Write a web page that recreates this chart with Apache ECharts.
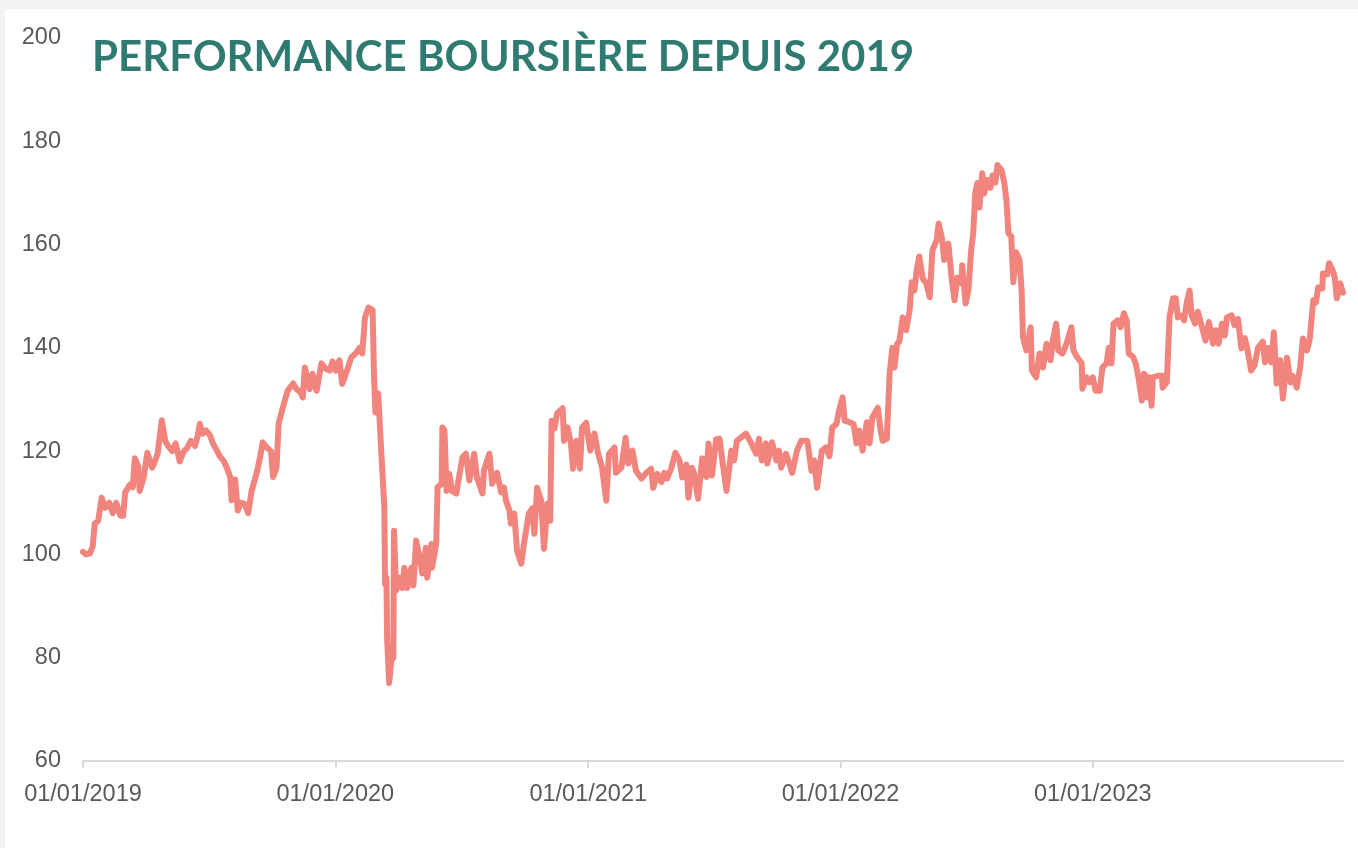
<!DOCTYPE html>
<html>
<head>
<meta charset="utf-8">
<script src="https://cdn.jsdelivr.net/npm/echarts@6/dist/echarts.min.js"></script>
<style>
  html, body { margin: 0; padding: 0; background: #f2f2f2; }
  #chart { position: absolute; left: 5px; top: 9px; width: 1353px; height: 839px; background: #fff; }
</style>
</head>
<body>
<div id="chart"></div>
<script>
// performance boursière, base 100 au 01/01/2019
var days2019 = ['01-01','01-05','01-11','01-15','01-18','01-23','01-28','02-02','02-08','02-13','02-18','02-24','02-28','03-03','03-10','03-14','03-17','03-22','03-24','03-30','04-04','04-11','04-15','04-19','04-25','04-30','05-04','05-10','05-15','05-21','05-27','05-31','06-06','06-12','06-16','06-19','06-23','06-28','07-04','07-08','07-14','07-18','07-24','07-28','08-02','08-04','08-09','08-13','08-17','08-23','08-28','09-02','09-10','09-14','09-18','09-24','09-30','10-03','10-08','10-11','10-17','10-24','11-01','11-06','11-11','11-15','11-18','11-22','11-25','11-29','12-05','12-12','12-18','12-24','12-28']
var vals2019 = [100.5,100,100.2,101.5,106,106.5,111,109,110,108,110,107.5,107.5,112,113.5,113,118.6,117,112.3,115,119.7,116.8,118,119.5,126,122,121,120,121.5,118,120,120.5,122,121,123,125.3,123.4,124,123,121.5,120,119,118,116.8,115,110.5,114.5,108.5,110,109.8,108,112.3,116.2,118.7,121.7,120.7,120,115,116.8,125.3,128.4,131.7,133.1,132,131.5,130.4,136.2,134,132,135,131.7,137,136,135.6,137.4]

var days2020 = ['01-02','01-07','01-11','01-18','01-24','01-31','02-05','02-09','02-13','02-18','02-24','02-26','02-28','03-03','03-08','03-12','03-13','03-15','03-16','03-19','03-22','03-25','03-26','03-29','04-03','04-07','04-10','04-14','04-20','04-23','04-27','05-01','05-06','05-11','05-13','05-19','05-20','05-26','05-28','06-03','06-04','06-07','06-10','06-14','06-18','06-24','06-28','07-03','07-08','07-13','07-20','07-24','08-01','08-03','08-11','08-15','08-22','08-28','09-01','09-04','09-09','09-11','09-16','09-20','09-26','09-30','10-07','10-12','10-15','10-19','10-25','10-29','11-03','11-07','11-09','11-13','11-17','11-25','11-27','12-02','12-07','12-10','12-15','12-20','12-23','12-29']
var vals2020 = [135.6,137.6,133,135.6,138.1,139,140,138.9,145.9,147.8,147.3,135,127.5,131.2,118.8,109,94.3,95.5,83.8,75.1,79.4,80,104.6,93,95.5,93.5,97.4,93.5,97.4,94,102.7,100.1,96.3,101.3,95.5,102,97.4,102,113,113.7,124.6,124,112.3,115.6,112.3,111.8,114.9,118.8,119.5,114.3,119.5,114.9,111.8,116.2,119.5,113.7,115.8,112,113,110.4,108.5,106,107.9,100.7,98.2,102.1,107.9,108.9,104,112.9,110.4,101.1,109.8,106.5,125.9,124.4,127.3,128.3,122,124.6,121.5,116.6,122,116.6,124.6,125.5]

var days2021 = ['01-04','01-10','01-15','01-21','01-27','01-31','02-08','02-10','02-18','02-24','02-28','03-06','03-11','03-19','03-26','04-02','04-05','04-11','04-17','04-21','04-25','05-01','05-07','05-13','05-17','05-23','05-26','05-31','06-03','06-09','06-15','06-21','06-24','06-29','07-05','07-10','07-14','07-20','07-27','07-31','08-04','08-17','08-25','09-01','09-05','09-09','09-15','09-17','09-24','09-30','10-04','10-07','10-14','10-19','10-23','10-30','11-05','11-14','11-20','11-24','11-28','12-05','12-11','12-16','12-20','12-26','12-30']
var vals2021 = [120.1,123.4,119.7,116.8,110.4,119.5,120.7,115.8,116.8,122.6,117.6,120.1,116.2,114.7,115.8,116.6,112.9,115.6,114,115.8,114.7,116.6,119.7,118.2,114.9,117.4,111,116.8,115.8,110.8,118.6,115,121.5,115.3,122.3,122.4,118.2,112.3,120.1,118.2,122,123.4,121.5,119.5,122.4,118.2,121.5,117.6,121.7,118.2,120.1,116.8,119.5,117.6,115.8,120.1,122,122,116.2,118.2,112.9,120.1,120.7,119,124.6,125.2,127.9]

var days2022 = ['01-04','01-07','01-14','01-20','01-24','01-28','02-02','02-08','02-12','02-16','02-24','02-28','03-03','03-09','03-13','03-17','03-20','03-24','03-27','04-01','04-06','04-11','04-14','04-18','04-21','04-25','04-30','05-05','05-10','05-14','05-20','05-23','05-28','05-31','06-06','06-11','06-15','06-19','06-25','06-26','07-01','07-05','07-09','07-12','07-15','07-18','07-21','07-25','07-28','08-01','08-06','08-09','08-13','08-16','08-22','08-26','08-29','09-01','09-05','09-08','09-12','09-17','09-20','09-22','09-27','10-03','10-05','10-11','10-16','10-21','10-26','11-01','11-04','11-09','11-12','11-18','11-24','12-01','12-04','12-10','12-16','12-17','12-23','12-27']
var vals2022 = [130.4,125.9,125.6,125.2,121.5,124,120.1,125.6,121.5,126.5,128.4,124,122,122.4,135,140,136.2,140.8,141.2,145.9,143.4,147.3,152.7,151.1,155,157.7,153.4,152.5,149.8,158.9,160.8,164.1,161,157,160.2,153.1,149.2,153.6,152.5,156,148.6,151.1,158.9,162.2,170.1,171.9,167.2,173.8,169.9,172.5,171,173.4,172,175.4,174.4,171.9,168.6,162.2,161.6,152.7,158.5,157,151.1,142,139.5,144,135.6,134.3,138.9,136.2,140.8,137.6,141.4,144.7,139.5,138.9,140.8,144,139.5,138.1,137,132.1,134.3,133.3]

var days2023 = ['01-01','01-05','01-11','01-15','01-21','01-24','01-28','01-31','02-06','02-10','02-15','02-19','02-22','02-28','03-04','03-08','03-13','03-16','03-20','03-21','03-24','03-27','03-29','04-05','04-11','04-12','04-18','04-22','04-27','05-01','05-04','05-10','05-13','05-17','05-21','05-24','05-29','06-02','06-08','06-13','06-18','06-24','06-28','07-02','07-07','07-11','07-14','07-21','07-25','07-30','08-04','08-09','08-13','08-18','08-23','08-28','09-04','09-07','09-11','09-16','09-20','09-24','09-29','10-03','10-09','10-14','10-17','10-23','10-28','11-01','11-07','11-11','11-16','11-20','11-23','11-29','11-30','12-06','12-09','12-14','12-17','12-20','12-25','12-29']
var vals2023 = [134.3,131.7,131.7,136.2,137,140,137,144.7,145.3,144,146.7,145.3,138.9,138.3,137,134.3,129.8,135,134.3,130.4,134.3,128.8,134.3,134.6,134.6,132.3,133.3,145.9,149.6,149.6,145.9,146.3,145.3,148.8,151.1,146.3,144.7,147,144,141.4,145,140.8,143.4,140.8,144.7,142.4,145.9,146.3,144.4,145.6,139.9,141.9,139.5,135.6,136.6,140,141.2,137.2,140,137.2,143,133.1,137.6,130.2,138.1,133.3,134.6,132.3,136.2,141.8,139.5,141.8,149.2,148.8,151.7,151.5,154.4,154.2,156.4,155,153.7,149.6,152.5,150.7]

var yTicks = [60, 80, 100, 120, 140, 160, 180, 200]
var titleText = 'PERFORMANCE BOURSIÈRE DEPUIS 2019'

// assemblage des séries
var years = { '2019': [days2019, vals2019], '2020': [days2020, vals2020], '2021': [days2021, vals2021], '2022': [days2022, vals2022], '2023': [days2023, vals2023] }
var dataset = []
for (var y in years) {
  var d = years[y][0], v = years[y][1]
  for (var i = 0; i < d.length; i++) {
    dataset.push([y + '-' + d[i], v[i]])
  }
}

function pad(n) { return n < 10 ? '0' + n : '' + n }

var dom = document.getElementById('chart')
var myChart = echarts.init(dom)

var option = {
  backgroundColor: '#ffffff',
  animation: false,
  title: {
    text: titleText,
    left: 82,
    top: 22,
    textStyle: {
      fontFamily: 'Lato',
      fontWeight: 'bold',
      fontSize: 42,
      color: '#2f7b72'
    }
  },
  grid: {
    left: 78,
    right: 15,
    top: 29,
    bottom: 87,
    outerBoundsMode: 'none'
  },
  xAxis: {
    type: 'time',
    min: '2019-01-01',
    max: '2023-12-29',
    minInterval: 365 * 24 * 3600 * 1000,
    maxInterval: 366 * 24 * 3600 * 1000,
    axisLine: { show: true, lineStyle: { color: '#d9d9d9', width: 2 } },
    axisTick: { show: true, length: 7, lineStyle: { color: '#d9d9d9', width: 2 } },
    splitLine: { show: false },
    axisLabel: {
      color: '#595959',
      fontSize: 23.5,
      fontFamily: 'Liberation Sans',
      margin: 22,
      formatter: function (v) {
        var d = new Date(v)
        return pad(d.getDate()) + '/' + pad(d.getMonth() + 1) + '/' + d.getFullYear()
      }
    }
  },
  yAxis: {
    type: 'value',
    min: yTicks[0],
    max: yTicks[yTicks.length - 1],
    interval: 20,
    axisLine: { show: false },
    axisTick: { show: false },
    splitLine: { show: false },
    axisLabel: {
      color: '#595959',
      fontSize: 23.5,
      fontFamily: 'Liberation Sans',
      margin: 22
    }
  },
  series: [
    {
      type: 'line',
      data: dataset,
      showSymbol: false,
      symbol: 'none',
      lineStyle: { color: '#f1857e', width: 6, cap: 'round', join: 'round' }
    }
  ]
}

myChart.setOption(option)
window.addEventListener('resize', myChart.resize)
</script>
</body>
</html>
